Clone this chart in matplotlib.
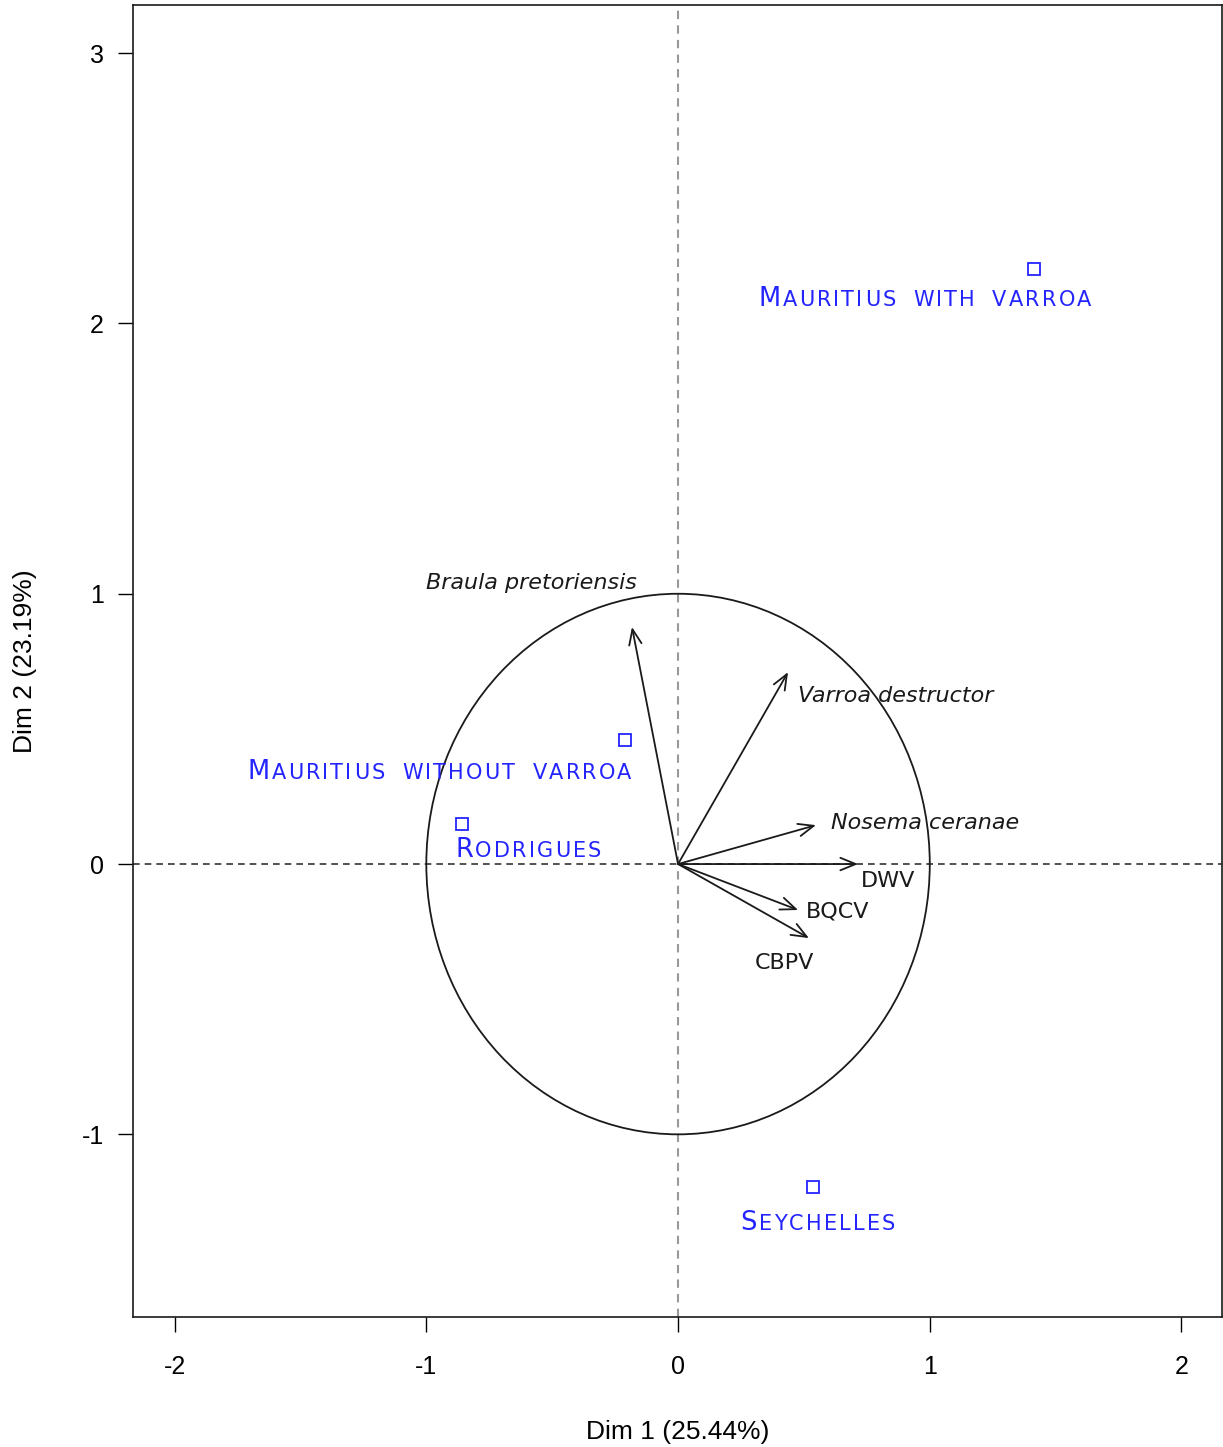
import numpy as np
import matplotlib.pyplot as plt
from matplotlib.patches import Circle

# individuals (sites)
site_names = ["Mauritius with varroa", "Mauritius without varroa", "Rodrigues", "Seychelles"]
site_x = [1.414, -0.211, -0.858, 0.536]
site_y = [2.201, 0.459, 0.148, -1.195]
# label anchor (left, baseline)
site_lab_x = [0.318, -1.712, -0.886, 0.246]
site_lab_y = [2.064, 0.314, 0.026, -1.354]

# variables (arrows)
var_names = ["Braula pretoriensis", "Varroa destructor", "Nosema ceranae", "DWV", "BQCV", "CBPV"]
var_x = [-0.183, 0.437, 0.548, 0.715, 0.477, 0.520]
var_y = [0.877, 0.710, 0.144, 0.0, -0.170, -0.274]
var_italic = [True, True, True, False, False, False]
var_lab_x = [-1.001, 0.477, 0.608, 0.727, 0.508, 0.306]
var_lab_y = [1.040, 0.622, 0.152, -0.063, -0.174, -0.366]

xticks = [-2, -1, 0, 1, 2]
yticks = [-1, 0, 1, 2, 3]

fig = plt.figure(figsize=(12.23, 14.47), dpi=100)
ax = fig.add_axes([0.1088, 0.0898, 0.8904, 0.9067])
ax.set_xlim(-2.165, 2.161)
ax.set_ylim(-1.676, 3.178)

ax.axvline(0, color="#999999", ls=(0, (4, 3)), lw=1.5, zorder=1)
ax.axhline(0, color="#333333", ls=(0, (4, 3)), lw=1.2, zorder=1)
ax.add_patch(Circle((0, 0), 1, fill=False, ec="#1a1a1a", lw=1.3, zorder=2))

for x, y in zip(var_x, var_y):
    ax.annotate("", xy=(x, y), xytext=(0, 0),
                arrowprops=dict(arrowstyle="->,head_length=1.1,head_width=0.45",
                                color="#1a1a1a", lw=1.3, shrinkA=0, shrinkB=0), zorder=3)
for name, lx, ly, it in zip(var_names, var_lab_x, var_lab_y, var_italic):
    ax.text(lx, ly, name, fontsize=16, style="italic" if it else "normal",
            ha="left", va="center", color="#1a1a1a", family="DejaVu Sans", zorder=4)

blue = "#2424ff"
ax.plot(site_x, site_y, ls="none", marker="s", ms=8.5, mfc="none", mec=blue, mew=1.3, zorder=4)

# small caps with letter spacing, drawn letter by letter
gap = 1.6      # points between letters
space = 11     # points for a word space
for name, lx, ly in zip(site_names, site_lab_x, site_lab_y):
    prev = ax.text(lx, ly, name[0].upper(), fontsize=18.5, color=blue,
                   ha="left", va="baseline", family="DejaVu Sans", zorder=4)
    extra = 0
    for ch in name[1:]:
        if ch == " ":
            extra += space
            continue
        prev = ax.annotate(ch.upper(), xy=(1.0, ly), xycoords=(prev, "data"),
                           xytext=(gap + extra, 0), textcoords="offset points",
                           fontsize=15, color=blue, ha="left", va="baseline",
                           family="DejaVu Sans", zorder=4)
        extra = 0

ax.set_xticks(xticks)
ax.set_yticks(yticks)
ax.set_xticklabels([str(t) for t in xticks])
ax.set_yticklabels([str(t) for t in yticks])
ax.tick_params(direction="out", length=11, width=1, labelsize=18)
ax.tick_params(axis="x", pad=16)
ax.tick_params(axis="y", pad=10)
for t in ax.get_xticklabels() + ax.get_yticklabels():
    t.set_family("Liberation Sans")
for s in ax.spines.values():
    s.set_linewidth(1.2)
    s.set_color("#1a1a1a")

ax.set_xlabel("Dim 1 (25.44%)", fontsize=19, family="Liberation Sans", labelpad=30)
ax.set_ylabel("Dim 2 (23.19%)", fontsize=19, family="Liberation Sans", labelpad=32)

fig.savefig("out.png", dpi=100)
